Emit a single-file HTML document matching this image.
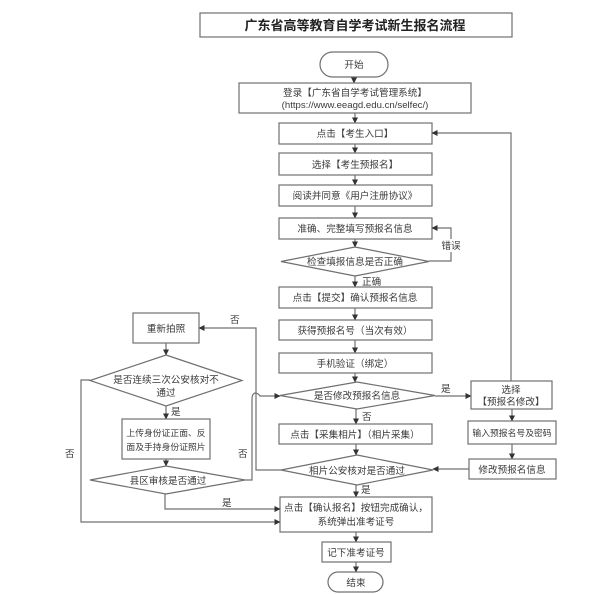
<!DOCTYPE html>
<html><head><meta charset="utf-8">
<style>
html,body{margin:0;padding:0;background:#fff;}
svg{display:block;}
text{font-family:"Liberation Sans","Noto Sans CJK SC",sans-serif;fill:#3a3a3a;font-size:9.6px;}
.s{font-size:8.8px;}
.b{fill:#fff;stroke:#707070;stroke-width:1.2;}
.l{fill:none;stroke:#707070;stroke-width:1.2;}
</style></head>
<body>
<svg width="615" height="594" viewBox="0 0 615 594" xmlns="http://www.w3.org/2000/svg">
<defs>
<marker id="a" markerWidth="6" markerHeight="6" refX="5.5" refY="3" orient="auto" markerUnits="userSpaceOnUse">
<path d="M0,0 L6,3 L0,6 z" fill="#333"/>
</marker>
</defs>

<!-- Title -->
<rect class="b" x="200" y="13" width="312" height="24"/>
<text x="355" y="30" text-anchor="middle" style="font-size:13px;font-weight:bold;fill:#222">广东省高等教育自学考试新生报名流程</text>

<!-- Start -->
<rect class="b" x="320" y="52" width="68" height="25" rx="12.5"/>
<text x="354" y="68" text-anchor="middle">开始</text>
<line class="l" x1="354" y1="77" x2="354" y2="83" marker-end="url(#a)"/>

<rect class="b" x="239" y="83" width="232" height="30"/>
<text x="355" y="96" text-anchor="middle">登录【广东省自学考试管理系统】</text>
<text x="355" y="108" text-anchor="middle">(https://www.eeagd.edu.cn/selfec/)</text>
<line class="l" x1="355" y1="113" x2="355" y2="123" marker-end="url(#a)"/>

<rect class="b" x="279" y="123" width="153" height="21"/>
<text x="355" y="137" text-anchor="middle">点击【考生入口】</text>
<line class="l" x1="355" y1="144" x2="355" y2="153" marker-end="url(#a)"/>

<rect class="b" x="279" y="153" width="153" height="22"/>
<text x="355" y="168" text-anchor="middle">选择【考生预报名】</text>
<line class="l" x1="355" y1="175" x2="355" y2="185" marker-end="url(#a)"/>

<rect class="b" x="279" y="185" width="153" height="21"/>
<text x="355" y="199" text-anchor="middle">阅读并同意《用户注册协议》</text>
<line class="l" x1="355" y1="206" x2="355" y2="218" marker-end="url(#a)"/>

<rect class="b" x="279" y="218" width="153" height="21"/>
<text x="355" y="232" text-anchor="middle">准确、完整填写预报名信息</text>
<line class="l" x1="355" y1="239" x2="355" y2="247" marker-end="url(#a)"/>

<polygon class="b" points="355,247 429,261.5 355,276 281,261.5"/>
<text x="355" y="265" text-anchor="middle">检查填报信息是否正确</text>
<!-- 错误 loop -->
<polyline class="l" points="429,261 451,261 451,228 432,228" marker-end="url(#a)"/>
<rect x="441" y="239" width="20" height="13" fill="#fff"/>
<text x="451" y="249" text-anchor="middle">错误</text>

<line class="l" x1="355" y1="276" x2="355" y2="287" marker-end="url(#a)"/>
<text x="362" y="285">正确</text>

<rect class="b" x="279" y="287" width="153" height="21"/>
<text x="355" y="301" text-anchor="middle">点击【提交】确认预报名信息</text>
<line class="l" x1="355" y1="308" x2="355" y2="320" marker-end="url(#a)"/>

<rect class="b" x="279" y="320" width="153" height="20"/>
<text x="355" y="334" text-anchor="middle">获得预报名号（当次有效）</text>
<line class="l" x1="355" y1="340" x2="355" y2="353" marker-end="url(#a)"/>

<rect class="b" x="279" y="353" width="153" height="20"/>
<text x="355" y="367" text-anchor="middle">手机验证（绑定）</text>
<line class="l" x1="355" y1="373" x2="355" y2="382" marker-end="url(#a)"/>

<polygon class="b" points="357,382 435,395.5 357,409 280,395.5"/>
<text x="357" y="399" text-anchor="middle">是否修改预报名信息</text>

<!-- 是 to right -->
<line class="l" x1="435" y1="396" x2="471" y2="396" marker-end="url(#a)"/>
<text x="441" y="392">是</text>

<line class="l" x1="356" y1="409" x2="356" y2="424" marker-end="url(#a)"/>
<text x="362" y="420">否</text>

<rect class="b" x="279" y="424" width="153" height="20"/>
<text x="355" y="438" text-anchor="middle">点击【采集相片】（相片采集）</text>
<line class="l" x1="356" y1="444" x2="356" y2="455" marker-end="url(#a)"/>

<polygon class="b" points="357,455 433,470 357,485 281,470"/>
<text x="357" y="474" text-anchor="middle">相片公安核对是否通过</text>

<line class="l" x1="356" y1="485" x2="356" y2="497" marker-end="url(#a)"/>
<text x="361" y="493">是</text>

<rect class="b" x="280" y="497" width="152" height="35"/>
<text x="356" y="511" text-anchor="middle">点击【确认报名】按钮完成确认，</text>
<text x="356" y="525" text-anchor="middle">系统弹出准考证号</text>
<line class="l" x1="356" y1="532" x2="356" y2="542" marker-end="url(#a)"/>

<rect class="b" x="322" y="542" width="69" height="20"/>
<text x="356" y="556" text-anchor="middle">记下准考证号</text>
<line class="l" x1="356" y1="562" x2="356" y2="572" marker-end="url(#a)"/>

<rect class="b" x="328" y="572" width="55" height="20" rx="10"/>
<text x="356" y="586" text-anchor="middle">结束</text>

<!-- Right side -->
<polyline class="l" points="511,381 511,133 432,133" marker-end="url(#a)"/>
<rect class="b" x="471" y="381" width="81" height="28"/>
<text x="511" y="393" text-anchor="middle">选择</text>
<text x="511" y="405" text-anchor="middle">【预报名修改】</text>
<line class="l" x1="512" y1="409" x2="512" y2="421" marker-end="url(#a)"/>

<rect class="b" x="468" y="421" width="88" height="23"/>
<text class="s" x="512" y="436" text-anchor="middle">输入预报名号及密码</text>
<line class="l" x1="512" y1="444" x2="512" y2="459" marker-end="url(#a)"/>

<rect class="b" x="469" y="459" width="87" height="20"/>
<text x="512" y="473" text-anchor="middle">修改预报名信息</text>
<line class="l" x1="469" y1="469" x2="433" y2="469" marker-end="url(#a)"/>

<!-- Left side -->
<polyline class="l" points="281,470 256,470 256,328 199,328" marker-end="url(#a)"/>
<text x="230" y="323">否</text>

<rect class="b" x="133" y="313" width="66" height="30"/>
<text x="166" y="332" text-anchor="middle">重新拍照</text>
<line class="l" x1="166" y1="343" x2="166" y2="355" marker-end="url(#a)"/>

<polygon class="b" points="166,355 242,380.5 166,406 90,380.5"/>
<text x="166" y="383" text-anchor="middle">是否连续三次公安核对不</text>
<text x="166" y="396" text-anchor="middle">通过</text>

<line class="l" x1="166" y1="406" x2="166" y2="419" marker-end="url(#a)"/>
<text x="171" y="415">是</text>

<rect class="b" x="122" y="419" width="88" height="40"/>
<text class="s" x="166" y="436" text-anchor="middle">上传身份证正面、反</text>
<text class="s" x="166" y="450" text-anchor="middle">面及手持身份证照片</text>
<line class="l" x1="166" y1="459" x2="166" y2="466" marker-end="url(#a)"/>

<polygon class="b" points="166,466 245,480 166,494 90,480"/>
<text x="168" y="484" text-anchor="middle">县区审核是否通过</text>

<!-- 是 from 县区 -->
<polyline class="l" points="165,494 165,509 280,509" marker-end="url(#a)"/>
<text x="222" y="506">是</text>

<!-- 否 from 连续三次 -->
<polyline class="l" points="90,380 81,380 81,522 280,522" marker-end="url(#a)"/>
<text x="65" y="457">否</text>

<!-- 否 from 县区 with hop -->
<path class="l" d="M245,480 H252 V399 Q252,394 255,393 Q258,393 260,396 H280" marker-end="url(#a)"/>
<text x="238" y="457">否</text>
</svg>
</body></html>
